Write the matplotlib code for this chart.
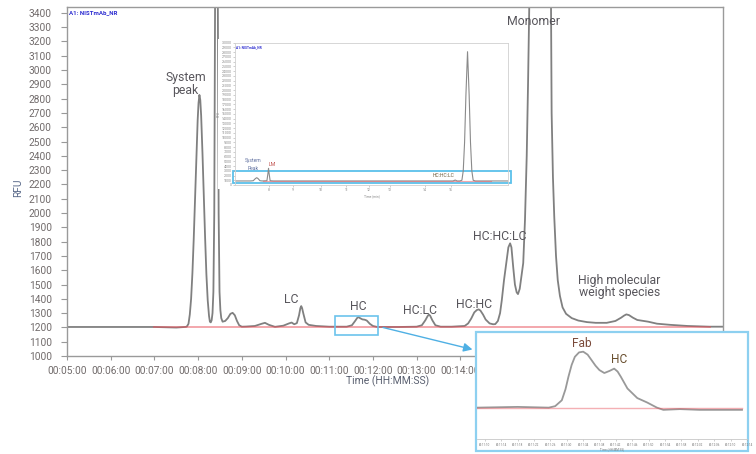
import matplotlib
matplotlib.use("Agg")
import matplotlib.pyplot as plt
from matplotlib.patches import Rectangle
from matplotlib.ticker import FuncFormatter, MultipleLocator

plt.rcParams['font.family'] = ['Roboto', 'DejaVu Sans']

# main chromatogram (time in min, RFU)
time_min = [5.00, 7.00, 7.50, 7.70, 7.74, 7.78, 7.81, 7.84, 7.87, 7.90, 7.93, 7.96, 7.99, 8.01,
            8.03, 8.05, 8.07, 8.10, 8.13, 8.16, 8.19, 8.22, 8.25, 8.27, 8.29, 8.31, 8.33, 8.35,
            8.37, 8.39, 8.42, 8.45, 8.47, 8.49, 8.51, 8.53, 8.56, 8.62, 8.68, 8.74, 8.79, 8.84,
            8.89, 8.94, 9.00, 9.10, 9.30, 9.45, 9.53, 9.62, 9.76, 9.95, 10.08, 10.14, 10.20,
            10.26, 10.31, 10.34, 10.36, 10.38, 10.41, 10.46, 10.53, 10.70, 11.00, 11.40, 11.52,
            11.60, 11.64, 11.67, 11.71, 11.76, 11.81, 11.86, 11.93, 12.00, 12.10, 12.60, 13.00,
            13.12, 13.20, 13.25, 13.28, 13.31, 13.36, 13.43, 13.55, 13.80, 14.10, 14.18, 14.25,
            14.32, 14.38, 14.42, 14.46, 14.52, 14.58, 14.67, 14.75, 14.80, 14.86, 14.91, 14.95,
            15.00, 15.06, 15.10, 15.14, 15.17, 15.21, 15.25, 15.29, 15.32, 15.36, 15.40, 15.44,
            15.48, 15.52, 15.55, 15.58, 15.70, 15.84, 15.98, 16.076, 16.09, 16.12, 16.15, 16.19,
            16.23, 16.28, 16.34, 16.42, 16.55, 16.70, 16.90, 17.10, 17.35, 17.55, 17.68, 17.75,
            17.80, 17.86, 17.95, 18.05, 18.30, 18.50, 18.80, 19.20, 19.70, 20.00]
rfu = [1203, 1203, 1199, 1203, 1205, 1225, 1290, 1400, 1580, 1820, 2100, 2400, 2650, 2770,
       2826, 2790, 2680, 2420, 2120, 1830, 1570, 1390, 1280, 1240, 1235, 1250, 1300, 1450,
       2000, 3600, 5600, 3600, 2000, 1450, 1320, 1265, 1240, 1245, 1265, 1295, 1302, 1285,
       1245, 1215, 1205, 1206, 1210, 1225, 1232, 1218, 1204, 1212, 1228, 1234, 1222,
       1230, 1285, 1335, 1349, 1335, 1295, 1235, 1218, 1210, 1205, 1205, 1215,
       1248, 1266, 1272, 1264, 1256, 1254, 1248, 1225, 1210, 1203, 1203, 1205,
       1215, 1250, 1278, 1290, 1282, 1250, 1215, 1205, 1205, 1210, 1228, 1262,
       1305, 1322, 1326, 1318, 1290, 1255, 1228, 1222, 1223, 1245, 1300, 1391,
       1530, 1671, 1760, 1788, 1760, 1624, 1500, 1445, 1433, 1470, 1560, 1650,
       1950, 2400, 2900, 3444, 12000, 28100, 12000, 3444, 2700, 2250, 1974, 1700,
       1530, 1420, 1340, 1295, 1265, 1248, 1237, 1232, 1232, 1245, 1268, 1283,
       1291, 1286, 1268, 1252, 1240, 1226, 1218, 1210, 1205, 1205]
baseline_t = [7.0, 19.72]
baseline_rfu = [1200, 1200]

# zoomed HC region
zoom_t = [11.135, 11.30, 11.427, 11.453, 11.480, 11.495, 11.507, 11.520, 11.533, 11.550, 11.567,
          11.585, 11.600, 11.617, 11.633, 11.653, 11.675, 11.693, 11.707, 11.720, 11.747,
          11.787, 11.827, 11.867, 11.893, 11.960, 12.040, 12.213]
zoom_rfu = [1195, 1196, 1195, 1197, 1205, 1220, 1237, 1253, 1264, 1270, 1271,
            1267, 1260, 1252, 1246, 1242, 1245, 1248, 1244, 1237, 1221,
            1208, 1202, 1195, 1192, 1193, 1192, 1192]

# overview chromatogram
over_t = [7.17, 7.75, 7.85, 7.93, 7.98, 8.03, 8.10, 8.18, 8.36, 8.40, 8.42, 8.44, 8.48, 8.60,
          15.30, 15.38, 15.45, 15.55, 15.63, 15.68, 15.73, 15.78, 15.84, 15.90, 15.95, 16.00,
          16.05, 16.13, 17.36]
over_rfu = [850, 850, 900, 1350, 1540, 1350, 900, 850, 900, 2500, 3520, 2500, 900, 850,
            850, 1050, 850, 850, 1000, 3000, 9000, 19000, 28100, 19000, 9000, 3000,
            1000, 850, 850]

W, H = 756, 454
fig = plt.figure(figsize=(7.56, 4.54), dpi=100)

def fx(px):
    return px / W

def fy(py):
    return 1 - py / H

tick_col = '#716b6b'
text_col = '#58565c'

ax = fig.add_axes([fx(67), fy(356), fx(722.5) - fx(67), fy(6.7) - fy(356)])
ax.plot(time_min, rfu, color='#808080', lw=1.3, zorder=2)
ax.plot(baseline_t, baseline_rfu, color='#e8505a', alpha=0.5, lw=1.4, zorder=3)
ax.set_xlim(5, 20)
ax.set_ylim(1000, 3443)
ax.xaxis.set_major_locator(MultipleLocator(1))
ax.xaxis.set_major_formatter(FuncFormatter(lambda v, p: '00:%02d:00' % round(v)))
ax.yaxis.set_major_locator(MultipleLocator(100))
ax.tick_params(axis='x', length=3, pad=4, labelsize=7.3, colors='#999999', labelcolor=tick_col)
ax.tick_params(axis='y', length=4, pad=7, labelsize=7.3, colors='#999999', labelcolor=tick_col)
for s in ax.spines.values():
    s.set_color('#9a9a9a')
    s.set_linewidth(1.0)

ax.text(0.003, 0.984, 'A1: NISTmAb_NR', transform=ax.transAxes, fontsize=4.4, color='#2b2bd0',
        fontweight='bold', ha='left', va='center')
fig.text(fx(18), fy(188), 'RFU', rotation=90, fontsize=7.3, color='#5a6a8a', ha='center', va='center')
fig.text(fx(388), fy(381.7), 'Time (HH:MM:SS)', fontsize=7.5, color='#5a6070', ha='center', va='center')

lab = dict(fontsize=8.8, color=text_col, ha='center', va='center', linespacing=0.95)
ax.text(7.713, 2903, 'System\npeak', **lab)
ax.text(10.143, 1396, 'LC', **lab)
ax.text(11.670, 1344, 'HC', **lab)
ax.text(13.067, 1321, 'HC:LC', **lab)
ax.text(14.32, 1363, 'HC:HC', **lab)
ax.text(14.892, 1834, 'HC:HC:LC', **lab)
ax.text(15.667, 3339, 'Monomer', **lab)
ax.text(17.645, 1487, 'High molecular\nweight species', **lab)

ax.add_patch(Rectangle((11.14, 1146), 0.97, 133, fill=False, ec='#6cc4ec', lw=1.2, zorder=4))
ax.annotate('', xy=(14.34, 1041), xytext=(12.17, 1204),
            arrowprops=dict(arrowstyle='-|>', color='#4fb0e4', lw=1.0, mutation_scale=13),
            zorder=5)

# overview inset
fig.patches.append(Rectangle((fx(218), fy(189)), fx(515) - fx(218), fy(39) - fy(189),
                             transform=fig.transFigure, fc='white', ec='none', zorder=1))
ax2 = fig.add_axes([fx(235), fy(185), fx(508.3) - fx(235), fy(42.7) - fy(185)], zorder=2)
ax2.plot(over_t, over_rfu, color='#8a8a8a', lw=0.8)
ax2.plot([8.20, 16.72], [800, 800], color='#e8505a', alpha=0.5, lw=0.8)
ax2.set_xlim(7.17, 17.36)
ax2.set_ylim(0, 30000)
ax2.set_yticks(range(0, 30001, 1000))
ax2.set_yticklabels([str(v) for v in range(0, 30001, 1000)])
ax2.set_xticks([8.42, 9.32, 10.37, 11.32, 12.16, 12.95, 14.26, 15.22])
ax2.set_xticklabels(['8', '9', '10', '11', '12', '13', '14', '15'])
ax2.tick_params(length=1.2, width=0.4, pad=1, labelsize=2.5, colors='#aaaaaa', labelcolor='#888888')
for s in ax2.spines.values():
    s.set_color('#d0d0d0')
    s.set_linewidth(0.6)
ax2.set_xlabel('Time (min)', fontsize=2.3, color='#888888', labelpad=1.5)
ax2.set_ylabel('RFU', fontsize=2.3, color='#888888', labelpad=1)
ax2.text(0.004, 0.985, 'A1: NISTmAb_NR', transform=ax2.transAxes, fontsize=2.3, color='#2b2bd0',
         fontweight='bold', ha='left', va='top')
ax2.text(7.84, 5060, 'System', fontsize=3.6, color='#6070a0', ha='center', va='center')
ax2.text(7.86, 3520, 'Peak', fontsize=3.6, color='#6070a0', ha='center', va='center')
ax2.text(8.55, 4360, 'LM', fontsize=3.8, color='#c0504d', ha='center', va='center')
ax2.text(14.94, 1960, 'HC:HC:LC', fontsize=3.6, color='#6b5a3a', ha='center', va='center')
ax2.add_patch(Rectangle((7.085, 527), 10.37, 2424, fill=False, ec='#5bc0eb', lw=1.3, clip_on=False))

# HC zoom inset
fig.patches.append(Rectangle((fx(476), fy(450.7)), fx(747.7) - fx(476), fy(332.3) - fy(450.7),
                             transform=fig.transFigure, fc='white', ec='#8dd0f0', lw=1.6, zorder=1))
ax3 = fig.add_axes([fx(477), fy(439.3), fx(747) - fx(477), fy(334) - fy(439.3)], zorder=2)
ax3.patch.set_alpha(0)
ax3.plot(zoom_t, zoom_rfu, color='#999999', lw=1.3)
ax3.plot([11.135, 12.215], [1195, 1195], color='#e8505a', alpha=0.45, lw=1.0)
ax3.set_xlim(11.135, 12.215)
ax3.set_ylim(1152, 1295)
zticks = [11 + (10 + 4 * k) / 60 for k in range(17)]
ax3.set_xticks(zticks)
ax3.set_xticklabels(['00:%02d:%02d' % (11 + (10 + 4 * k) // 60, (10 + 4 * k) % 60) for k in range(17)])
ax3.set_yticks([])
ax3.tick_params(axis='x', length=1.5, width=0.4, pad=1, labelsize=2.2, colors='#aaaaaa',
                labelcolor='#777777')
for side in ['top', 'left', 'right']:
    ax3.spines[side].set_visible(False)
ax3.spines['bottom'].set_color('#c8c8c8')
ax3.spines['bottom'].set_linewidth(0.6)
ax3.set_xlabel('Time (HH:MM:SS)', fontsize=2.2, color='#777777', labelpad=0.5)
ax3.text(11.563, 1282.5, 'Fab', fontsize=8.6, color='#7a4a3a', ha='center', va='center')
ax3.text(11.713, 1259.7, 'HC', fontsize=8.6, color='#6a5030', ha='center', va='center')

fig.savefig('out.png', dpi=100)
